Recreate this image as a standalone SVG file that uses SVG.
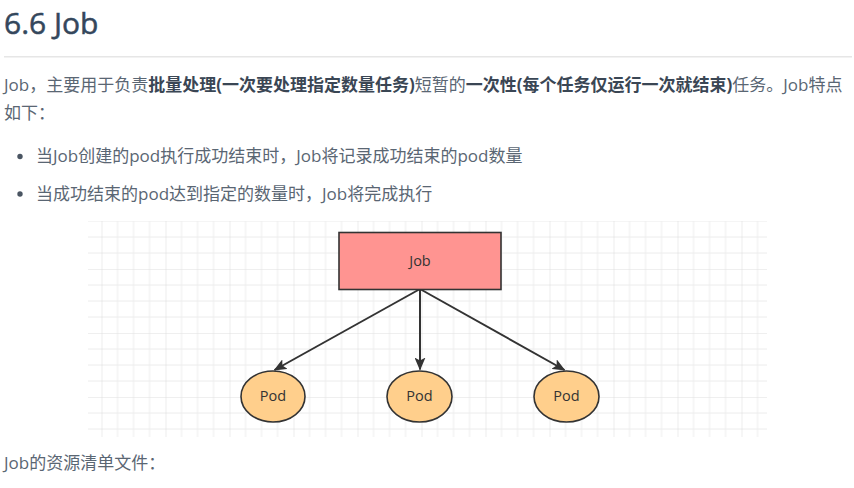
<svg xmlns="http://www.w3.org/2000/svg" width="854" height="488" viewBox="0 0 854 488">
<style>
.t{font-family:"Open Sans","Noto Sans CJK SC",sans-serif;}
.body{font-size:17px;fill:#5a6673;}
.b{font-weight:bold;fill:#3a4654;}
.title{font-size:30px;font-weight:normal;fill:#34475c;stroke:#34475c;stroke-width:0.5;}
.lbl{font-family:"Open Sans","Liberation Sans",sans-serif;font-size:14.5px;fill:#333333;text-anchor:middle;}
.conn{stroke:#333333;stroke-width:2;fill:none;marker-end:url(#ah);}
.pod{fill:#ffcf8c;stroke:#333333;stroke-width:1.6;}
</style>
<defs>
<pattern id="grid" patternUnits="userSpaceOnUse" x="101.5" y="205" width="64" height="64">
<path d="M16 0V64M32 0V64M48 0V64M0 16H64M0 32H64M0 48H64" stroke="#ececec" stroke-width="1" fill="none"/>
<path d="M0 0V64M0 0H64" stroke="#e0e0e0" stroke-width="1.2" fill="none"/>
</pattern>
<marker id="ah" viewBox="0 0 13 11" refX="12" refY="5.5" markerWidth="13" markerHeight="11" markerUnits="userSpaceOnUse" orient="auto">
<path d="M0 0L13 5.5L0 11L3 5.5Z" fill="#333333"/>
</marker>
</defs>
<rect width="854" height="488" fill="#ffffff"/>
<text class="t title" x="4" y="34">6.6 Job</text>
<rect x="4" y="56" width="848" height="1.5" fill="#e6e6e6"/>
<text class="t body" x="4" y="91">Job，主要用于负责<tspan class="b">批量处理(一次要处理指定数量任务)</tspan>短暂的<tspan class="b">一次性(每个任务仅运行一次就结束)</tspan>任务。Job特点</text>
<text class="t body" x="4" y="119">如下：</text>
<circle cx="20" cy="156.5" r="2.7" fill="#4a5562"/>
<text class="t body" x="36" y="162">当Job创建的pod执行成功结束时，Job将记录成功结束的pod数量</text>
<circle cx="20" cy="194" r="2.7" fill="#4a5562"/>
<text class="t body" x="36" y="200">当成功结束的pod达到指定的数量时，Job将完成执行</text>
<rect x="88" y="221" width="679" height="216" fill="url(#grid)"/>
<g id="connectors">
<line class="conn" x1="420" y1="289" x2="274.5" y2="370"/>
<line class="conn" x1="420" y1="289" x2="420" y2="369.5"/>
<line class="conn" x1="420" y1="289" x2="564.5" y2="370"/>
</g>
<g id="job">
<rect x="339" y="232.5" width="162" height="57" fill="#ff9491" stroke="#333333" stroke-width="1.6"/>
<text class="lbl" x="420" y="266">Job</text>
</g>
<g id="pod1">
<ellipse class="pod" cx="273" cy="396.5" rx="32" ry="25.5"/>
<text class="lbl" x="273" y="401">Pod</text>
</g>
<g id="pod2">
<ellipse class="pod" cx="419.5" cy="396.5" rx="32.5" ry="25.5"/>
<text class="lbl" x="419.5" y="401">Pod</text>
</g>
<g id="pod3">
<ellipse class="pod" cx="566.5" cy="396.5" rx="32.5" ry="25.5"/>
<text class="lbl" x="566.5" y="401">Pod</text>
</g>
<text class="t body" x="4" y="469">Job的资源清单文件：</text>
</svg>
